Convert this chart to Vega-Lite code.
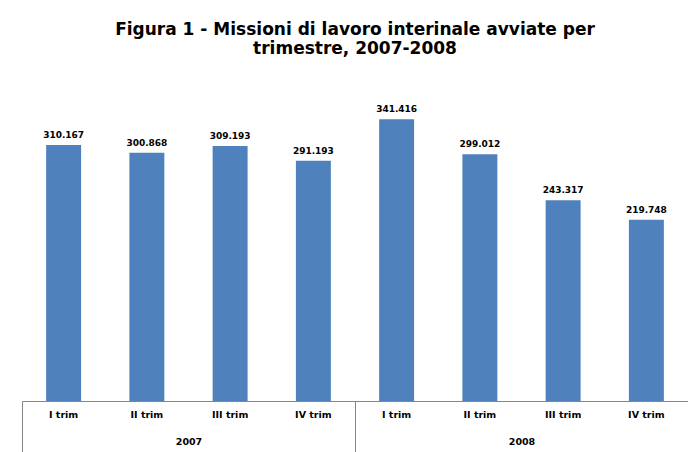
{
  "$schema": "https://vega.github.io/schema/vega-lite/v6.json",
  "width": 666,
  "height": 330,
  "autosize": {"type": "none"},
  "padding": {"left": 22, "top": 71, "right": 0, "bottom": 51},
  "background": "white",
  "config": {
    "view": {"stroke": null},
    "font": "DejaVu Sans",
    "locale": {"number": {"decimal": ",", "thousands": ".", "grouping": [3], "currency": ["€", ""]}}
  },
  "title": {
    "text": ["Figura 1 - Missioni di lavoro interinale avviate per", "trimestre, 2007-2008"],
    "font": "DejaVu Sans",
    "fontSize": 17,
    "fontWeight": "bold",
    "color": "#000000",
    "anchor": "middle",
    "frame": "group",
    "offset": 13,
    "lineHeight": 19
  },
  "data": {
    "values": [
      {"anno": "2007", "trim": "I trim", "key": "2007|I trim", "valore": 310167},
      {"anno": "2007", "trim": "II trim", "key": "2007|II trim", "valore": 300868},
      {"anno": "2007", "trim": "III trim", "key": "2007|III trim", "valore": 309193},
      {"anno": "2007", "trim": "IV trim", "key": "2007|IV trim", "valore": 291193},
      {"anno": "2008", "trim": "I trim", "key": "2008|I trim", "valore": 341416},
      {"anno": "2008", "trim": "II trim", "key": "2008|II trim", "valore": 299012},
      {"anno": "2008", "trim": "III trim", "key": "2008|III trim", "valore": 243317},
      {"anno": "2008", "trim": "IV trim", "key": "2008|IV trim", "valore": 219748}
    ]
  },
  "layer": [
    {
      "mark": {"type": "bar", "color": "#4F81BD"},
      "encoding": {
        "x": {
          "field": "key", "type": "ordinal", "sort": null,
          "scale": {"paddingInner": 0.58, "paddingOuter": 0.29},
          "axis": {
            "title": null, "orient": "bottom", "labelAngle": 0,
            "labelExpr": "split(datum.value, '|')[1]",
            "ticks": false, "domainColor": "#868686", "domainWidth": 1,
            "labelFont": "DejaVu Sans", "labelFontSize": 9.5, "labelFontWeight": "bold",
            "labelColor": "#000000", "labelPadding": 8
          }
        },
        "y": {"field": "valore", "type": "quantitative", "scale": {"domain": [0, 400000]}, "axis": null}
      }
    },
    {
      "mark": {"type": "text", "baseline": "bottom", "dy": -5, "font": "DejaVu Sans", "fontSize": 9, "fontWeight": "bold", "color": "#000000"},
      "encoding": {
        "x": {"field": "key", "type": "ordinal", "sort": null, "axis": null},
        "y": {"field": "valore", "type": "quantitative"},
        "text": {"field": "valore", "type": "quantitative", "format": ",d"}
      }
    },
    {
      "mark": {"type": "point", "opacity": 0},
      "encoding": {
        "x": {
          "field": "anno", "type": "nominal",
          "scale": {"type": "band", "paddingInner": 0, "paddingOuter": 0},
          "axis": {
            "title": null, "orient": "bottom", "labelAngle": 0, "domain": false,
            "tickBand": "extent", "tickSize": 52, "tickColor": "#868686", "tickWidth": 1,
            "labelPadding": -17,
            "labelFont": "DejaVu Sans", "labelFontSize": 9.5, "labelFontWeight": "bold",
            "labelColor": "#000000"
          }
        },
        "y": {"datum": 0}
      }
    }
  ],
  "resolve": {"scale": {"x": "independent"}, "axis": {"x": "independent"}}
}
